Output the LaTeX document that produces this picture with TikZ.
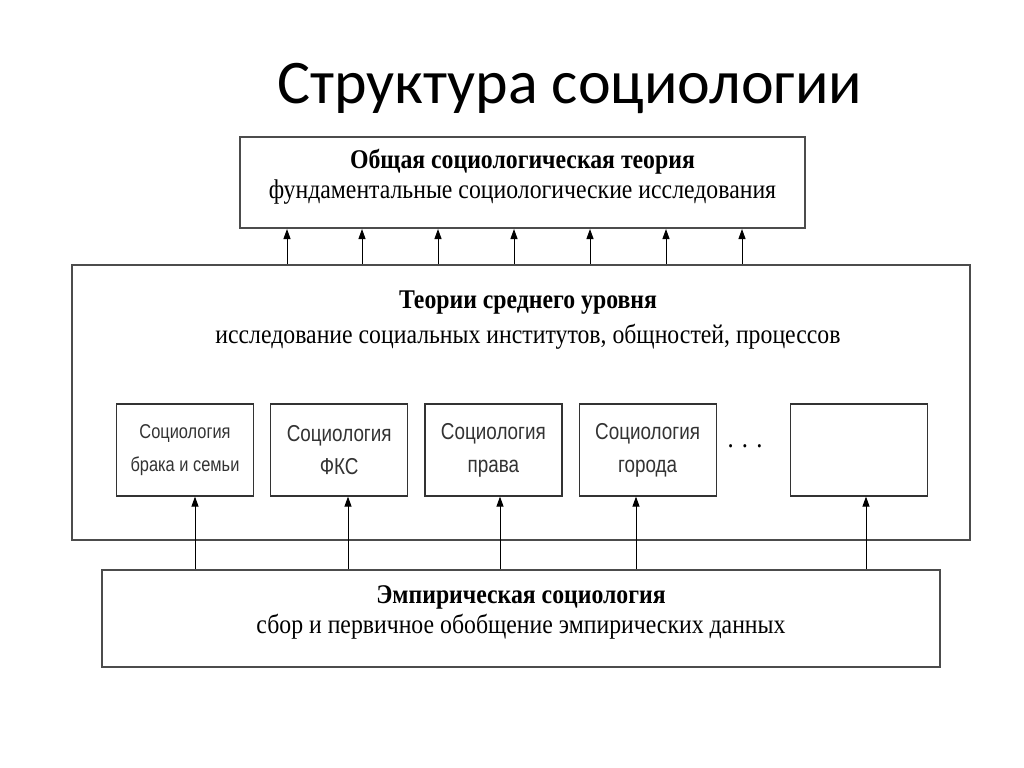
\documentclass[tikz,border=0pt]{standalone}
\usepackage{fontspec}
\setmainfont[FakeStretch=0.88]{Liberation Serif}
\newfontfamily\titlefont{Carlito}
\newfontfamily\smallfont[FakeStretch=0.82]{Liberation Sans}
\usetikzlibrary{arrows.meta,positioning}

\begin{document}
\begin{tikzpicture}[x=0.5pt,y=-0.5pt,node distance=8pt,
    level/.style={draw=black!70,line width=1pt,inner sep=0pt},
    branch/.style={draw=black!80,line width=0.6pt,inner sep=0pt,
      minimum width=68.5pt,minimum height=46pt,align=center,
      font=\smallfont\fontsize{11.5}{16.5}\selectfont,text=black!80},
    headline/.style={align=center,font=\fontsize{13.5}{15}\selectfont},
    up/.style={-{Triangle[length=5pt,width=3.5pt]},line width=0.5pt}]
  \fill[white] (0,0) rectangle (1024,767);
  \useasboundingbox (0,0) rectangle (1024,767);
  % title
  \node (title) at (570,88) {\titlefont\fontsize{31}{36}\selectfont Структура социологии};
  % three levels
  \node[level,minimum width=282.5pt,minimum height=45.5pt] (general) at (522.5,182.5) {};
  \node[headline] (general text) at (522.5,177) {\textbf{Общая социологическая теория}\\фундаментальные социологические исследования};
  \node[level,minimum width=449pt,minimum height=137.5pt] (middle) at (521,402.5) {};
  \node[headline,font=\fontsize{13.5}{17.5}\selectfont] (middle text) at (528,320) {\textbf{Теории среднего уровня}\\исследование социальных институтов, общностей, процессов};
  \node[level,minimum width=419pt,minimum height=48.5pt] (empirical) at (521,618.5) {};
  \node[headline] (empirical text) at (521,612) {\textbf{Эмпирическая социология}\\сбор и первичное обобщение эмпирических данных};
  % branches
  \node[branch,font=\smallfont\fontsize{10}{16.5}\selectfont] (family) at (185,450) {Социология\\брака и семьи};
  \node[branch] (fks) [right=of family] {Социология\\ФКС};
  \node[branch] (law) [right=of fks] {Социология\\права};
  \node[branch] (city) [right=of law] {Социология\\города};
  \node[branch] (other) [right=36.5pt of city] {};
  \node[font=\fontsize{14}{14}\selectfont] (dots) at (745,446) {. . .};
  % arrows
  \foreach \x in {287,362,438,514,590,666,742}
    \draw[up] (\x,0 |- middle.north) -- (\x,0 |- general.south);
  \draw[up] (195,0 |- empirical.north) -- (195,0 |- family.south);
  \draw[up] (348,0 |- empirical.north) -- (348,0 |- fks.south);
  \draw[up] (500,0 |- empirical.north) -- (500,0 |- law.south);
  \draw[up] (636,0 |- empirical.north) -- (636,0 |- city.south);
  \draw[up] (866,0 |- empirical.north) -- (866,0 |- other.south);
\end{tikzpicture}
\end{document}
